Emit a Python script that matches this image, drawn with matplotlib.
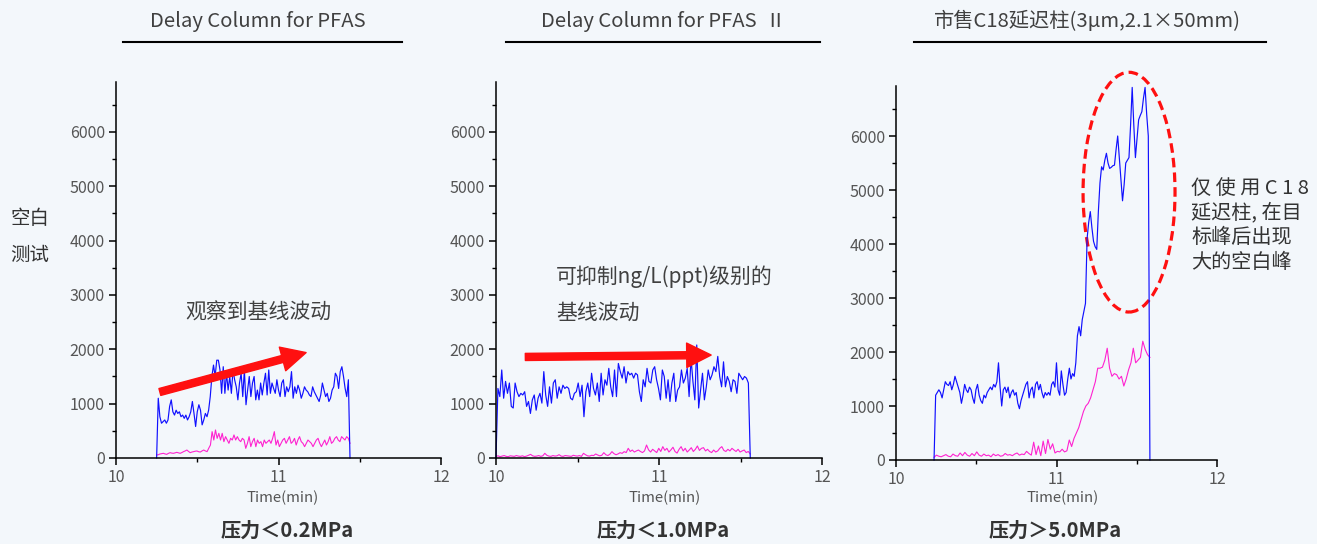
import numpy as np
import matplotlib
matplotlib.use("Agg")
import matplotlib.pyplot as plt
from matplotlib.patches import Ellipse
from matplotlib.lines import Line2D
from matplotlib.ticker import MultipleLocator

plt.rcParams['font.family'] = ['Noto Sans CJK SC', 'DejaVu Sans']

W, H = 1317, 544

# ---- data ----
titles = ["Delay Column for PFAS", "Delay Column for PFAS  Ⅱ", "市售C18延迟柱(3μm,2.1×50mm)"]
pressure_labels = ["压力＜0.2MPa", "压力＜1.0MPa", "压力＞5.0MPa"]

# panel 1 (blank run, delay column, <0.2 MPa)
t1_range = (10.25, 11.44)
blue1 = [0, 1100, 760, 640, 670, 700, 640, 700, 950, 1070, 850, 790, 880, 820, 850, 760, 790, 730,
         790, 700, 760, 850, 1040, 820, 580, 850, 980, 880, 610, 700, 820, 760, 880, 1130, 1500,
         1710, 1500, 1800, 1800, 1620, 1190, 1680, 1190, 1560, 1250, 1500, 1190, 1620, 1440, 1310,
         1070, 1380, 1560, 1130, 1620, 980, 1250, 1500, 1130, 1380, 1500, 1070, 1250, 1070, 1380,
         1160, 1380, 1560, 1160, 1620, 1190, 1380, 1280, 1190, 1440, 1250, 1130, 1380, 1440, 1130,
         1310, 1220, 1310, 1590, 1100, 1310, 1190, 1340, 1250, 1100, 1190, 1310, 1250, 1220, 1160,
         1130, 1310, 1220, 1160, 1100, 1040, 1160, 1380, 1250, 1130, 1190, 1040, 1100, 1250, 1310,
         1560, 1500, 1280, 1590, 1680, 1500, 1280, 1130, 1440, 0]
pink1 = [55, 60, 74, 80, 86, 75, 67, 85, 98, 90, 86, 95, 104, 95, 86, 100, 117, 130, 147, 120, 98,
         110, 117, 125, 129, 115, 110, 130, 147, 130, 117, 180, 239, 485, 331, 516, 362, 454, 331,
         454, 301, 393, 331, 270, 362, 331, 424, 331, 393, 331, 301, 362, 331, 178, 270, 393, 209,
         301, 362, 209, 331, 270, 301, 209, 331, 270, 301, 331, 270, 362, 485, 239, 331, 209, 270,
         331, 362, 270, 331, 393, 270, 301, 362, 239, 331, 393, 301, 270, 209, 270, 331, 301, 270,
         209, 270, 331, 362, 270, 209, 270, 331, 239, 301, 393, 270, 301, 362, 393, 331, 301, 393,
         362, 331, 393, 362, 270]

# panel 2 (delay column II, <1.0 MPa)
t2_range = (10.0, 11.56)
blue2 = [0, 1280, 1130, 1620, 1100, 1410, 1190, 1380, 950, 920, 1380, 1220, 1130, 1190, 1160, 1220,
         950, 1040, 820, 1070, 1160, 880, 1100, 1190, 1010, 1590, 1160, 950, 1310, 1010, 1380, 1440,
         1100, 1310, 1190, 1340, 1280, 1310, 1280, 1100, 1070, 1190, 1220, 1380, 1130, 1340, 760,
         1220, 1380, 1130, 1560, 1280, 1160, 1380, 1040, 1560, 1160, 1440, 1340, 1650, 1310, 1130,
         1620, 1130, 1740, 1590, 1470, 1680, 1380, 1590, 1530, 1560, 1470, 1560, 1530, 1220, 1040,
         1440, 1310, 1650, 1410, 1380, 1620, 1680, 1440, 1280, 1070, 1620, 1500, 1100, 1440, 1040,
         1380, 1560, 1040, 1250, 1310, 1620, 1380, 1470, 1650, 1130, 1840, 1410, 1070, 2080, 920,
         1250, 1560, 1070, 1310, 1620, 1440, 1530, 1680, 1590, 1870, 1500, 1310, 1770, 1310, 1500,
         1410, 1220, 1440, 1410, 1190, 1560, 1500, 1440, 1500, 1470, 1380, 0]
pink2 = [30, 40, 25, 35, 45, 30, 25, 40, 35, 30, 45, 35, 30, 40, 25, 35, 50, 67, 40, 30, 35, 45, 30,
         40, 86, 50, 35, 30, 45, 35, 40, 61, 35, 30, 45, 40, 35, 30, 50, 40, 35, 45, 30, 86, 60, 40,
         35, 50, 45, 74, 55, 40, 50, 98, 60, 45, 70, 117, 80, 60, 75, 98, 85, 117, 100, 178, 120,
         147, 110, 130, 147, 120, 100, 130, 239, 150, 110, 160, 130, 100, 178, 120, 209, 140, 178,
         110, 150, 198, 120, 90, 160, 209, 130, 178, 110, 147, 190, 120, 160, 221, 140, 178, 190,
         130, 160, 120, 100, 147, 110, 130, 178, 209, 140, 120, 160, 130, 178, 147, 120, 160, 110,
         130, 147, 100, 120, 74]

# panel 3 (commercial C18 as delay column, >5.0 MPa)
t3_range = (10.237, 11.582)
blue3_base = [1200, 1250, 1300, 1250, 1150, 1300, 1450, 1400, 1380, 1450, 1300, 1400, 1550, 1450,
              1350, 1250, 1050, 1200, 1400, 1300, 1250, 1350, 1300, 1150, 1050, 1300, 1400, 1200,
              1100, 1050, 1200, 1150, 1250, 1300, 1350, 1300, 1400, 1350, 1450, 1800, 1350, 1000,
              1300, 1350, 1250, 1350, 1150, 1250, 1300, 1200, 1250, 1050, 950, 1100, 1200, 1300,
              1400, 1450, 1150, 1300, 1350, 1150, 1400, 1450, 1300, 1400, 1250, 1150, 1250, 1200,
              1250, 1200, 1400, 1450, 1350, 1800, 1300, 1200, 1650, 1400, 1200, 1250, 1500, 1700,
              1500, 1600, 1550]
blue3_rise = [1800, 2300, 2470, 2300, 2600, 2750, 2900, 4100, 4400, 4600, 4300, 4050, 3950, 3900,
              4600, 5130, 5430, 5370, 5550, 5680, 5500, 5400, 5420, 5450, 5460, 5750, 6000, 5600,
              5200, 4800, 5100, 5500, 5550, 5600, 6200, 6900, 6200, 5600, 5950, 6300, 6380, 6450,
              6700, 6900, 6400, 6000]
blue3 = [0] + blue3_base + blue3_rise + [0]
pink3 = [50, 90, 70, 60, 80, 100, 70, 60, 110, 80, 70, 130, 80, 140, 90, 70, 120, 80, 150, 90, 70,
         110, 80, 90, 60, 110, 80, 100, 70, 80, 120, 90, 100, 80, 110, 130, 90, 110, 100, 160, 120,
         90, 330, 100, 260, 80, 350, 120, 380, 200, 300, 130, 160, 150, 200, 150, 170, 370, 250,
         400, 500, 600, 750, 900, 1000, 1050, 1150, 1300, 1450, 1700, 1700, 1720, 1850, 2070, 1700,
         1550, 1600, 1580, 1500, 1550, 1370, 1500, 1670, 1800, 2070, 1800, 1850, 1900, 2200, 2050,
         1950, 1900]

# ---- figure ----
fig = plt.figure(figsize=(W / 100, H / 100), dpi=100, facecolor='#f3f7fb')


def fx(px):
    return px / W


def fy(py):
    return 1 - py / H


def make_axes(left, right, bottom, top, ymax):
    ax = fig.add_axes([fx(left), fy(bottom), (right - left) / W, (bottom - top) / H])
    ax.set_facecolor('none')
    ax.set_xlim(10, 12)
    ax.set_ylim(0, ymax)
    for s in ['top', 'right']:
        ax.spines[s].set_visible(False)
    for s in ['left', 'bottom']:
        ax.spines[s].set_linewidth(1.1)
    ax.xaxis.set_major_locator(MultipleLocator(1))
    ax.xaxis.set_minor_locator(MultipleLocator(0.5))
    ax.yaxis.set_major_locator(MultipleLocator(1000))
    ax.yaxis.set_minor_locator(MultipleLocator(500))
    ax.tick_params(which='major', length=5, width=1.1, labelsize=11.5, labelcolor='#555555', pad=3)
    ax.tick_params(which='minor', length=3, width=1.0)
    return ax


axes = [
    make_axes(116, 441, 458, 82, 6920),
    make_axes(496, 822, 458, 82, 6920),
    make_axes(896, 1217, 460, 86, 6926),
]

blue_c = '#1010ff'
pink_c = '#ff22d0'
series = [(t1_range, blue1, pink1), (t2_range, blue2, pink2), (t3_range, blue3, pink3)]
for ax, (tr, b, p) in zip(axes, series):
    tb = np.linspace(tr[0], tr[1], len(b))
    tp = np.linspace(tr[0], tr[1], len(p))
    ax.plot(tp, p, color=pink_c, lw=0.8)
    ax.plot(tb, b, color=blue_c, lw=0.85, clip_on=False)

# red arrows
arrow_kw = dict(arrowstyle='simple,head_length=1.1,head_width=1.1,tail_width=0.32',
                color='#ff1010', mutation_scale=16, shrinkA=0, shrinkB=0)
axes[0].annotate('', xy=(11.17, 1940), xytext=(10.27, 1215), arrowprops=arrow_kw)
axes[1].annotate('', xy=(11.32, 1895), xytext=(10.18, 1860), arrowprops=arrow_kw)

# dashed ellipse in panel 3
axes[2].add_patch(Ellipse((11.452, 4960), 0.573, 4440, fill=False, ec='#ff1010', lw=2.3,
                          ls=(0, (3, 1.6)), clip_on=False))

# titles with underline
title_x = [258, 663, 1087]
lines_x = [(123, 402), (506, 820), (914, 1266)]
for t, x, (x0, x1) in zip(titles, title_x, lines_x):
    fig.text(fx(x), fy(21), t, ha='center', va='center', fontsize=14.6, color='#404040')
    fig.add_artist(Line2D([fx(x0), fx(x1)], [fy(42), fy(42)], color='black', lw=1.5))

# x labels and pressure labels
for x in [283, 665, 1063]:
    fig.text(fx(x), fy(498), 'Time(min)', ha='center', va='center', fontsize=10.8, color='#555555')
for lab, x in zip(pressure_labels, [287, 663, 1055]):
    fig.text(fx(x), fy(530), lab, ha='center', va='center', fontsize=14.5, fontweight='bold',
             color='#333333')

# left label
fig.text(fx(30), fy(218), '空白', ha='center', va='center', fontsize=14, color='#333333')
fig.text(fx(30), fy(255), '测试', ha='center', va='center', fontsize=14, color='#333333')

# notes
fig.text(fx(258), fy(313), '观察到基线波动', ha='center', va='center', fontsize=15, color='#404040')
fig.text(fx(556), fy(277), '可抑制ng/L(ppt)级别的', ha='left', va='center', fontsize=15, color='#404040')
fig.text(fx(556), fy(313), '基线波动', ha='left', va='center', fontsize=15, color='#404040')
note3 = ['仅 使 用 C 1 8', '延迟柱, 在目', '标峰后出现', '大的空白峰']
for i, line in enumerate(note3):
    fig.text(fx(1191), fy(188 + i * 24.7), line, ha='left', va='center', fontsize=14.5,
             color='#333333')

fig.savefig('out.png', dpi=100, facecolor=fig.get_facecolor())
